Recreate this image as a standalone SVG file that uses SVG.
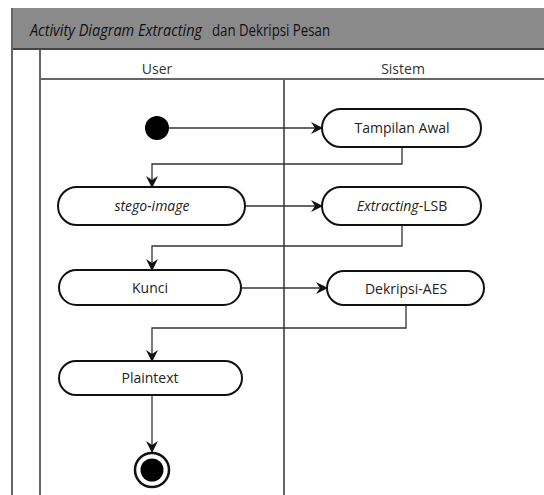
<svg xmlns="http://www.w3.org/2000/svg" width="544" height="495" viewBox="0 0 544 495">
<defs>
<marker id="arr" viewBox="0 0 12 12" refX="11" refY="6" markerWidth="12" markerHeight="12" markerUnits="userSpaceOnUse" orient="auto">
<path d="M0,0 L12,6 L0,12 L4,6 Z" fill="#111"/>
</marker>
<style>
.lane{stroke:#666;stroke-width:2;fill:none}
.node{fill:#fff;stroke:#111;stroke-width:2}
.edge{fill:none;stroke:#333;stroke-width:1.3;marker-end:url(#arr)}
.t{font-family:"Open Sans","DejaVu Sans",sans-serif;font-size:14px;fill:#222;text-anchor:middle}
.h{font-family:"Open Sans","DejaVu Sans",sans-serif;font-size:14px;fill:#333;text-anchor:middle}
.ttl{font-family:"Open Sans","DejaVu Sans",sans-serif;font-size:16.5px;fill:#111}
</style>
</defs>
<rect width="544" height="495" fill="#fff"/>
<g id="frame">
<rect x="12" y="8" width="532" height="42" fill="#8a8a8a"/>
<line x1="12" y1="49" x2="544" y2="49" stroke="#444" stroke-width="2"/>
<line x1="12" y1="8" x2="12" y2="495" class="lane"/>
<line x1="40" y1="50" x2="40" y2="495" class="lane"/>
<line x1="40" y1="79" x2="544" y2="79" class="lane"/>
<line x1="284" y1="79" x2="284" y2="495" class="lane"/>
<text x="30" y="36" class="ttl" font-style="italic" textLength="172" lengthAdjust="spacingAndGlyphs">Activity Diagram Extracting</text>
<text x="212" y="36" class="ttl" textLength="118" lengthAdjust="spacingAndGlyphs">dan Dekripsi Pesan</text>
<text x="157" y="74" class="h">User</text>
<text x="403" y="74" class="h">Sistem</text>
</g>
<g id="connectors">
<line x1="169" y1="128" x2="322" y2="128" class="edge"/>
<polyline points="402,147 402,164 152,164 152,187" class="edge"/>
<line x1="245" y1="206" x2="322" y2="206" class="edge"/>
<polyline points="402,225 402,246 152,246 152,270" class="edge"/>
<line x1="241" y1="288" x2="327" y2="288" class="edge"/>
<polyline points="406,305 406,328 152,328 152,361" class="edge"/>
<line x1="152" y1="395" x2="152" y2="452" class="edge"/>
</g>
<g id="start"><circle cx="157" cy="128" r="12" fill="#000"/></g>
<g id="tampilan"><rect x="322" y="109" width="159" height="38" rx="19" class="node"/><text x="402" y="133" class="t">Tampilan Awal</text></g>
<g id="stego"><rect x="58" y="187" width="187" height="38" rx="19" class="node"/><text x="152" y="211" class="t" font-style="italic">stego-image</text></g>
<g id="extracting"><rect x="322" y="187" width="159" height="38" rx="19" class="node"/><text x="402" y="211" class="t"><tspan font-style="italic">Extracting</tspan>-LSB</text></g>
<g id="kunci"><rect x="59" y="270" width="182" height="35" rx="17.5" class="node"/><text x="150" y="293" class="t">Kunci</text></g>
<g id="dekripsi"><rect x="327" y="271" width="157" height="34" rx="17" class="node"/><text x="406" y="294" class="t" font-size="15" fill="#111">Dekripsi-AES</text></g>
<g id="plaintext"><rect x="59" y="361" width="183" height="34" rx="17" class="node"/><text x="150" y="383" class="t">Plaintext</text></g>
<g id="end"><circle cx="152" cy="470" r="17" fill="#fff" stroke="#111" stroke-width="2.5"/><circle cx="152" cy="470" r="11.5" fill="#000"/></g>
</svg>
